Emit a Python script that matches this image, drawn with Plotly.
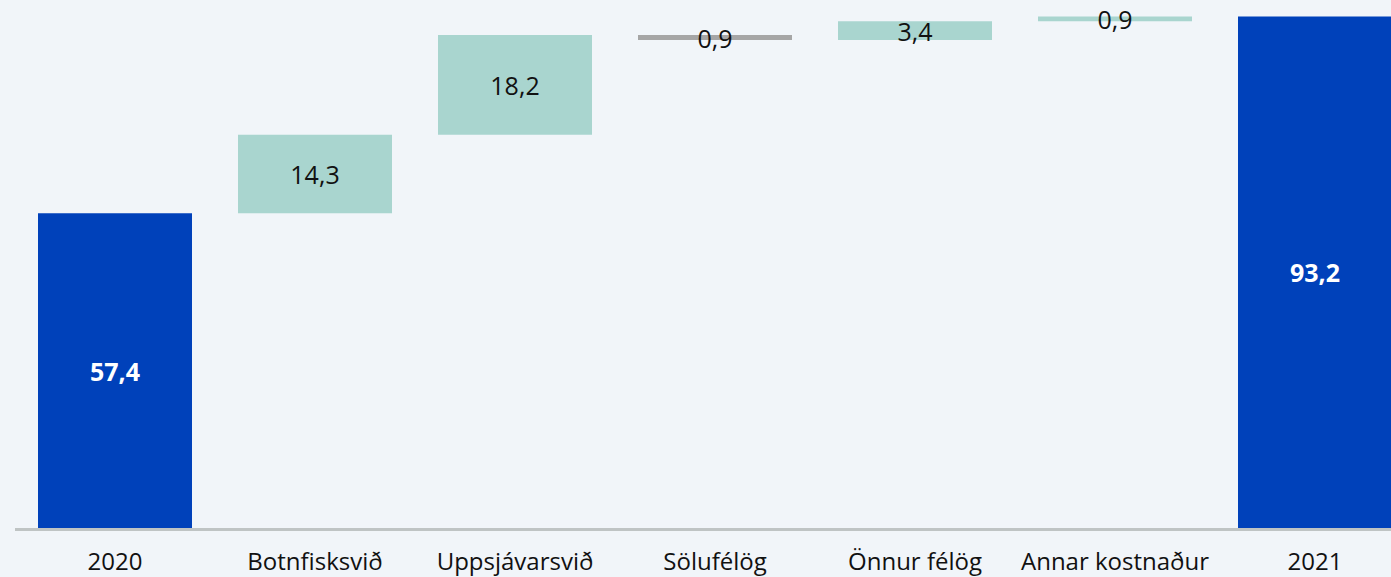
import plotly.graph_objects as go

categories = ["2020", "Botnfisksvið", "Uppsjávarsvið", "Sölufélög", "Önnur félög", "Annar kostnaður", "2021"]
values = [57.4, 14.3, 18.2, -0.9, 3.4, 0.9, 93.2]
measures = ["absolute", "relative", "relative", "relative", "relative", "relative", "total"]
labels = ["57,4", "14,3", "18,2", "0,9", "3,4", "0,9", "93,2"]

BG = "#F1F5F9"
BLUE = "#0041BA"
TEAL = "#A9D5CF"
GREY = "#A6A6A6"
FONT = "Open Sans"
TICK_FS = 24
VAL_FS = 25

is_total = [m in ("absolute", "total") for m in measures]
text_colors = ["white" if t else "#111111" for t in is_total]
text_weight = ["bold" if t else "normal" for t in is_total]

fig = go.Figure(go.Waterfall(
    x=categories,
    y=values,
    measure=measures,
    text=labels,
    textposition="inside",
    insidetextanchor="middle",
    constraintext="none",
    cliponaxis=False,
    textfont=dict(color=text_colors, size=VAL_FS, family=FONT, weight=text_weight),
    increasing=dict(marker=dict(color=TEAL)),
    decreasing=dict(marker=dict(color=GREY)),
    totals=dict(marker=dict(color=BLUE)),
    connector=dict(visible=False),
    width=0.77,
    hoverinfo="skip",
))

fig.update_layout(
    width=1391, height=577,
    paper_bgcolor=BG, plot_bgcolor=BG,
    margin=dict(l=15, r=0, t=0, b=47),
    showlegend=False,
    font=dict(family=FONT, size=TICK_FS, color="#111111"),
)
fig.update_xaxes(
    range=[-0.5, 6.38],
    showgrid=False, zeroline=False,
    showline=True, linecolor="#BFC4C4", linewidth=3,
    ticks="", ticklabelstandoff=10,
    tickfont=dict(size=TICK_FS, family=FONT, color="#111111"),
)
fig.update_yaxes(range=[0, 96.29], visible=False, showgrid=False, zeroline=False)

fig.write_html(
    "out.html",
    config={"displayModeBar": False},
    post_script="document.body.style.margin='0';document.body.style.background='" + BG + "';",
)
